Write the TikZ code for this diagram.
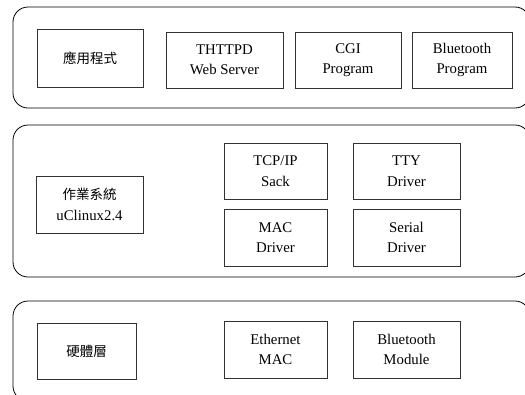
\documentclass[tikz,border=0pt]{standalone}
\usepackage{fontspec}
\setmainfont{Liberation Serif}
\newfontfamily\cjk{Noto Sans CJK TC}
\begin{document}
\begin{tikzpicture}[x=1pt, y=-1pt,
  layer/.style={draw=black, line width=0.8pt, rounded corners=15pt, inner sep=0pt},
  box/.style={draw=black!80, line width=0.8pt, align=center, inner sep=0pt,
    font=\fontsize{14.8}{20.5}\selectfont},
  cjkbox/.style={box, font=\cjk\fontsize{13.5}{20.5}\selectfont}]
  \useasboundingbox (0,0) rectangle (525,394);
  \begin{scope}
    \clip (0,0) rectangle (525,394);
    % three layers
    \node[layer, minimum width=517pt, minimum height=101pt] (applayer) at (271.5,57.5) {};
    \node[layer, minimum width=517pt, minimum height=152pt] (oslayer) at (271.5,201) {};
    \node[layer, minimum width=517pt, minimum height=100pt] (hwlayer) at (271.5,351) {};
  \end{scope}
  % application layer
  \node[cjkbox, minimum width=106pt, minimum height=58pt] (app) at (90,58) {應用程式};
  \node[box, minimum width=117pt, minimum height=56pt] (web) at (224.5,60) {THTTPD\\Web Server};
  \node[box, minimum width=106pt, minimum height=56pt] (cgi) at (348,60) {CGI\\Program};
  \node[box, minimum width=100pt, minimum height=56pt] (btprog) at (462,60) {Bluetooth\\Program};
  % operating system layer
  \node[cjkbox, minimum width=107pt, minimum height=57pt] (os) at (89.5,204.5)
    {作業系統\\\fontspec{Liberation Serif}\fontsize{14.8}{20.5}\selectfont uClinux2.4};
  \node[box, minimum width=103pt, minimum height=56pt] (tcp) at (275.5,171) {TCP/IP\\Sack};
  \node[box, minimum width=107pt, minimum height=56pt] (tty) at (406.5,171) {TTY\\Driver};
  \node[box, minimum width=103pt, minimum height=57pt] (mac) at (275.5,237.5) {MAC\\Driver};
  \node[box, minimum width=107pt, minimum height=57pt] (serial) at (406.5,237.5) {Serial\\Driver};
  % hardware layer
  \node[cjkbox, minimum width=99pt, minimum height=56pt] (hw) at (86.5,351) {硬體層};
  \node[box, minimum width=103pt, minimum height=57pt] (eth) at (275.5,349.5) {Ethernet\\MAC};
  \node[box, minimum width=107pt, minimum height=57pt] (btmod) at (406.5,349.5) {Bluetooth\\Module};
\end{tikzpicture}
\end{document}
